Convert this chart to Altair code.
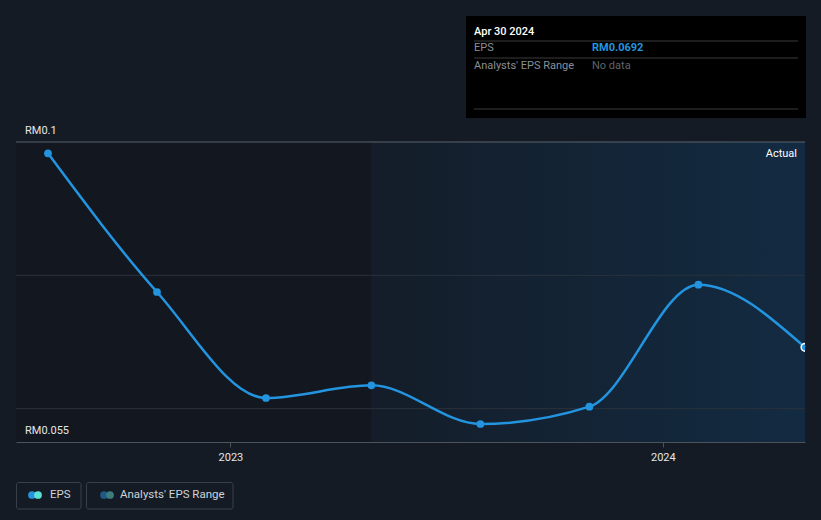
import altair as alt
import pandas as pd

# ---- data ----
dates = ["2022-07-31", "2022-10-31", "2023-01-31", "2023-04-30",
         "2023-07-31", "2023-10-31", "2024-01-31", "2024-04-30"]
eps = [0.0983, 0.0775, 0.0616, 0.0635, 0.0577, 0.0603, 0.0786, 0.0692]
grid_values = [0.06, 0.08]
top_value = [0.1]
y_label_values = [0.1, 0.055]
y_label_texts = ["RM0.1", "RM0.055"]
year_ticks = [2023, 2024]
highlight_start = ["2023-04-30"]
highlight_end = ["2024-04-30"]
tooltip_date = "Apr 30 2024"
tooltip_eps = "RM0.0692"
legend_names = ["EPS", "Analysts' EPS Range"]

FONT = "Roboto"
BLUE = "#2394df"

df = pd.DataFrame({"date": pd.to_datetime(dates), "eps": eps})
last_df = df.tail(1)

xscale = alt.Scale(domain=[alt.DateTime(year=2022, month=7, date=4),
                           alt.DateTime(year=2024, month=4, date=30)], nice=False)
yscale = alt.Scale(domain=[0.055, 0.1], nice=False, zero=False)

xaxis = alt.Axis(title=None, format="%Y", grid=False,
                 values=[alt.DateTime(year=y, month=1, date=1) for y in year_ticks],
                 labelColor="#e6e6e6", labelFont=FONT, labelFontSize=11,
                 labelPadding=4, tickColor="#4d535b", tickSize=5,
                 domainColor="#4d535b", domainWidth=1)
X = alt.X("date:T", scale=xscale, axis=xaxis)
Y = alt.Y("eps:Q", scale=yscale, axis=None)

# highlighted last-year region
hl = alt.Chart(pd.DataFrame({"s": pd.to_datetime(highlight_start),
                             "e": pd.to_datetime(highlight_end)})).mark_rect(
    fill=alt.Gradient(gradient="linear",
                      stops=[alt.GradientStop(color="#141d29", offset=0),
                             alt.GradientStop(color="#132b42", offset=1)],
                      x1=0, x2=1, y1=0, y2=0)
).encode(x=alt.X("s:T", scale=xscale, axis=xaxis), x2="e:T",
         y=alt.value(0), y2=alt.value(300))

grid = alt.Chart(pd.DataFrame({"v": grid_values})).mark_rule(
    color="#2a323c", strokeWidth=1).encode(y=alt.Y("v:Q", scale=yscale, axis=None))
top = alt.Chart(pd.DataFrame({"v": top_value})).mark_rule(
    color="#5a626c", strokeWidth=1).encode(y=alt.Y("v:Q", scale=yscale, axis=None))

ylab = alt.Chart(pd.DataFrame({"v": y_label_values, "t": y_label_texts})).mark_text(
    align="left", baseline="middle", dy=-11, font=FONT, fontSize=11, color="#e6e6e6"
).encode(x=alt.value(9), y=alt.Y("v:Q", scale=yscale, axis=None), text="t:N")

line = alt.Chart(df).mark_line(interpolate="monotone", color=BLUE, strokeWidth=2.5).encode(x=X, y=Y)
pts = alt.Chart(df.iloc[:-1]).mark_circle(color=BLUE, size=60, opacity=1).encode(x=X, y=Y)
last = alt.Chart(last_df).mark_point(filled=True, fill=BLUE, stroke="white", strokeWidth=1.5,
                                     size=60, opacity=1, clip=True).encode(x=X, y=Y)

actual = alt.Chart(pd.DataFrame({"t": ["Actual"]})).mark_text(
    align="right", baseline="middle", font=FONT, fontSize=11, color="#ffffff"
).encode(x=alt.value(781), y=alt.value(12), text="t:N")

# tooltip box
tip_box = alt.Chart(pd.DataFrame({"a": [0]})).mark_rect(fill="#000000").encode(
    x=alt.value(450), x2=alt.value(790), y=alt.value(-126), y2=alt.value(-24))
tip_lines = alt.layer(*[
    alt.Chart(pd.DataFrame({"a": [0]})).mark_rule(color="#3a3a3a", strokeWidth=1).encode(
        x=alt.value(458), x2=alt.value(782), y=alt.value(yy))
    for yy in [-101, -84, -33]])


def txt(t, x, y, color, weight="normal", size=11):
    return alt.Chart(pd.DataFrame({"t": [t]})).mark_text(
        align="left", baseline="middle", font=FONT, fontSize=size, color=color,
        fontWeight=weight).encode(x=alt.value(x), y=alt.value(y), text="t:N")


tip_texts = alt.layer(
    txt(tooltip_date, 458, -110.5, "#ffffff", 500),
    txt("EPS", 458, -94, "#8a8f96"),
    txt(tooltip_eps, 576, -94, BLUE, "bold"),
    txt(legend_names[1], 458, -76, "#8a8f96"),
    txt("No data", 576, -76, "#5f646b"),
)

# legend
leg_boxes = alt.layer(
    alt.Chart(pd.DataFrame({"a": [0]})).mark_rect(
        fill="transparent", stroke="#3a4049", strokeWidth=1, cornerRadius=2).encode(
        x=alt.value(0.5), x2=alt.value(65), y=alt.value(340.5), y2=alt.value(367)),
    alt.Chart(pd.DataFrame({"a": [0]})).mark_rect(
        fill="transparent", stroke="#3a4049", strokeWidth=1, cornerRadius=2).encode(
        x=alt.value(70.5), x2=alt.value(217), y=alt.value(340.5), y2=alt.value(367)),
)


def dot(x, color):
    return alt.Chart(pd.DataFrame({"a": [0]})).mark_circle(color=color, size=60, opacity=1).encode(
        x=alt.value(x), y=alt.value(353))


leg_items = alt.layer(
    dot(16, BLUE), dot(22, "#5fe0d4"),
    txt(legend_names[0], 34, 353, "#cfd3d8", size=11.5),
    dot(88, "#1f5a86"), dot(94, "#3c7c7a"),
    txt(legend_names[1], 104, 353, "#cfd3d8", size=11.5),
)

chart = alt.layer(hl, grid, top, line, pts, last, ylab, actual,
                  tip_box, tip_lines, tip_texts, leg_boxes, leg_items).properties(
    width=789, height=300,
    padding={"left": 16, "top": 142, "right": 16, "bottom": 78},
    autosize=alt.AutoSizeParams(type="none"),
    background="#151b24",
).configure_view(fill="#13171f", strokeWidth=0)

chart.save("out.html", embed_options={"renderer": "svg", "actions": False})
